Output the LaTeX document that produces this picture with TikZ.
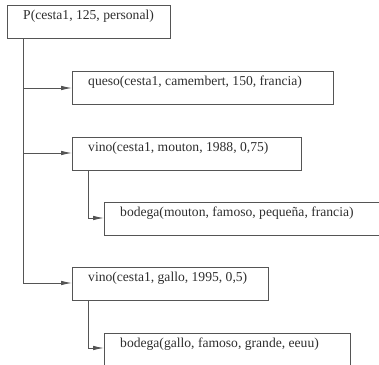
\documentclass[tikz,border=0pt]{standalone}
\usepackage{fontspec}
\setmainfont{Liberation Serif}
\usetikzlibrary{arrows.meta}
\definecolor{linegray}{HTML}{555555}
\definecolor{textgray}{HTML}{2E2E2E}
\tikzset{
  termbox/.style={draw=linegray, line width=0.9pt, anchor=north west, inner sep=0pt, minimum height=32.5pt},
  termtext/.style={anchor=base west, inner sep=0pt, text=textgray,
    font=\fontsize{13.6pt}{15pt}\selectfont},
  conn/.style={draw=linegray, line width=0.9pt},
  arr/.style={conn, -{Latex[length=11pt,width=4.5pt]}}
}
\begin{document}
\begin{tikzpicture}[x=1pt,y=-1pt]
\useasboundingbox (0,0) rectangle (379,364);
\clip (0,0) rectangle (379,364);
% boxes
\node[termbox, minimum width=163pt] (p) at (7,5) {};
\node[termbox, minimum width=261pt] (queso) at (72,71) {};
\node[termbox, minimum width=229pt] (vino1) at (72,137) {};
\node[termbox, minimum width=290pt] (bod1) at (104,202) {};
\node[termbox, minimum width=196pt] (vino2) at (72,267) {};
\node[termbox, minimum width=246pt] (bod2) at (104,333) {};
% texts
\node[termtext] (tp) at (23,19) {P(cesta1, 125, personal)};
\node[termtext] (tq) at (88,85) {queso(cesta1, camembert, 150, francia)};
\node[termtext] (tv1) at (88,151) {vino(cesta1, mouton, 1988, 0,75)};
\node[termtext] (tb1) at (120,216) {bodega(mouton, famoso, pequeña, francia)};
\node[termtext] (tv2) at (88,281) {vino(cesta1, gallo, 1995, 0,5)};
\node[termtext] (tb2) at (120,347) {bodega(gallo, famoso, grande, eeuu)};
% connectors
\coordinate (pa) at (p.south west -| 23,0);
\coordinate (va) at (vino1.south west -| 88,0);
\coordinate (vb) at (vino2.south west -| 88,0);
\draw[conn] (pa) -- (23,283);
\draw[arr] (23,88) -- (queso.west |- 0,88);
\draw[arr] (23,153) -- (vino1.west |- 0,153);
\draw[arr] (23,283) -- (vino2.west |- 0,283);
\draw[arr] (va) |- (bod1.west |- 0,218);
\draw[arr] (vb) |- (bod2.west |- 0,348);
\end{tikzpicture}
\end{document}
